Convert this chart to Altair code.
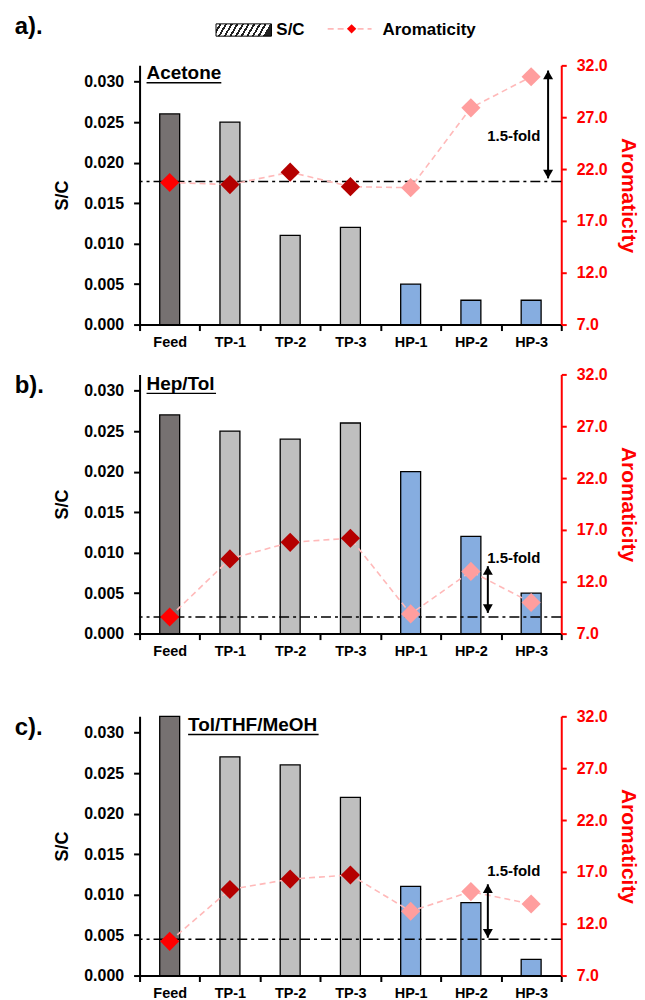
import altair as alt
import pandas as pd

# ---------------- data ----------------
categories = ["Feed", "TP-1", "TP-2", "TP-3", "HP-1", "HP-2", "HP-3"]
groups = ["Feed", "TP", "TP", "TP", "HP", "HP", "HP"]
panel_labels = ["a).", "b).", "c)."]
solvents = ["Acetone", "Hep/Tol", "Tol/THF/MeOH"]

sc_a = [0.026, 0.025, 0.011, 0.012, 0.005, 0.003, 0.003]
sc_b = [0.027, 0.025, 0.024, 0.026, 0.020, 0.012, 0.005]
sc_c = [0.032, 0.027, 0.026, 0.022, 0.011, 0.009, 0.002]

arom_a = [20.7, 20.5, 21.7, 20.3, 20.2, 27.9, 30.9]
arom_b = [8.6, 14.2, 15.8, 16.2, 8.9, 13.0, 10.0]
arom_c = [10.3, 15.3, 16.3, 16.7, 13.2, 15.1, 13.9]

ref_lines = [20.8, 8.6, 10.5]
arrow_cat = ["HP-3", "HP-2", "HP-2"]
arrow_low = [21.1, 9.0, 10.65]
arrow_high = [31.5, 13.5, 15.8]
fold_cat = ["HP-2", "HP-2", "HP-2"]
fold_y = [24.7, 13.8, 16.6]
fold_label = "1.5-fold"

sc_ticks = [0.0, 0.005, 0.010, 0.015, 0.020, 0.025, 0.030]
arom_ticks = [7, 12, 17, 22, 27, 32]

# ---------------- styles ----------------
FONT = "Liberation Sans"
W = 423
group_names = ["Feed", "TP", "HP"]
bar_colors = ["#767171", "#BFBFBF", "#86ADE0"]
pt_colors = ["#FF0000", "#B50000", "#FF9E9E"]
PINK = "#FFB9B9"
RED = "#FF0000"

x_axis = alt.Axis(labelAngle=0, labelFontSize=14.5, labelFontWeight="bold", labelColor="black",
                  labelPadding=5, tickBand="extent", tickSize=6, tickWidth=2, tickColor="black",
                  domainColor="black", domainWidth=2, grid=False, title=None, labelFont=FONT)
left_axis = alt.Axis(values=sc_ticks, format=".3f", title="S/C", titleFontSize=18, titleFontWeight="bold",
                     titleColor="black", titlePadding=12, labelFontSize=16, labelFontWeight="bold",
                     labelColor="black", labelPadding=10, tickSize=6, tickWidth=2, tickColor="black",
                     domainColor="black", domainWidth=2, grid=False, labelFont=FONT, titleFont=FONT)
right_axis = alt.Axis(orient="right", values=arom_ticks, format=".1f", title="Aromaticity",
                      titleFontSize=21, titleFontWeight="bold", titleColor=RED, titlePadding=10,
                      labelFontSize=16, labelFontWeight="bold", labelColor=RED, labelPadding=10,
                      tickSize=5, tickWidth=2, tickColor=RED, domainColor=RED, domainWidth=2,
                      grid=False, labelFont=FONT, titleFont=FONT)

stops = []
n = 10
for i in range(n):
    o = i / n
    stops += [alt.GradientStop(offset=o, color="white"),
              alt.GradientStop(offset=o + 0.062, color="white"),
              alt.GradientStop(offset=o + 0.062, color="#222222"),
              alt.GradientStop(offset=(i + 1) / n, color="#222222")]
hatch = alt.LinearGradient(gradient="linear", stops=stops, x1=0, y1=0, x2=1, y2=0.13)

title_pos = [(7, 14), (7, 15.5), (48.7, 14.7)]
title_width = [75, 69.7, 130.9]


def one(text):
    return pd.DataFrame({"t": [text]})


def panel(i, sc, arom, height, top):
    df = pd.DataFrame({"category": categories, "group": groups, "sc": sc, "arom": arom})
    xenc = alt.X("category:N", sort=categories,
                 scale=alt.Scale(paddingInner=0, paddingOuter=0), axis=x_axis)
    yl_scale = alt.Scale(domain=[0, 0.032], nice=False, zero=True, range=[height, top])
    yr_scale = alt.Scale(domain=[7, 32], nice=False, zero=False, range=[height, top])

    bars = alt.Chart(df).mark_bar(size=20, stroke="black", strokeWidth=1.3).encode(
        x=xenc,
        y=alt.Y("sc:Q", scale=yl_scale, axis=left_axis),
        color=alt.Color("group:N", scale=alt.Scale(domain=group_names, range=bar_colors), legend=None),
    )

    ref = alt.Chart(pd.DataFrame({"ref": [ref_lines[i]]})).mark_rule(
        color="black", strokeWidth=1.5, strokeDash=[10, 4, 3, 4]).encode(
        y=alt.Y("ref:Q", scale=yr_scale, axis=right_axis))
    line = alt.Chart(df).mark_line(color=PINK, strokeWidth=1.6, strokeDash=[6, 4]).encode(
        x=xenc, y=alt.Y("arom:Q", scale=yr_scale, axis=right_axis))
    pts = alt.Chart(df).mark_point(shape="diamond", filled=True, size=370, opacity=1).encode(
        x=xenc, y=alt.Y("arom:Q", scale=yr_scale, axis=right_axis),
        color=alt.Color("group:N", scale=alt.Scale(domain=group_names, range=pt_colors), legend=None))
    adf = pd.DataFrame({"category": [arrow_cat[i]], "lo": [arrow_low[i]], "hi": [arrow_high[i]]})
    arr = alt.Chart(adf).mark_rule(color="black", strokeWidth=2, xOffset=17).encode(
        x=xenc, y=alt.Y("lo:Q", scale=yr_scale, axis=right_axis), y2="hi:Q")
    head_up = alt.Chart(adf).mark_point(shape="triangle-up", filled=True, size=100, color="black",
                                        opacity=1, xOffset=17, yOffset=4.3).encode(
        x=xenc, y=alt.Y("hi:Q", scale=yr_scale, axis=right_axis))
    head_dn = alt.Chart(adf).mark_point(shape="triangle-down", filled=True, size=100, color="black",
                                        opacity=1, xOffset=17, yOffset=-4.3).encode(
        x=xenc, y=alt.Y("lo:Q", scale=yr_scale, axis=right_axis))
    fdf = pd.DataFrame({"category": [fold_cat[i]], "v": [fold_y[i]], "t": [fold_label]})
    fold = alt.Chart(fdf).mark_text(align="left", baseline="alphabetic", xOffset=16.4, fontSize=15,
                                    fontWeight="bold", color="black", font=FONT).encode(
        x=xenc, y=alt.Y("v:Q", scale=yr_scale, axis=right_axis), text="t:N")

    right = alt.layer(ref, line, pts, arr, head_up, head_dn, fold)

    tx, ty = title_pos[i]
    ttl = alt.Chart(one(solvents[i])).mark_text(align="left", baseline="alphabetic", fontSize=19,
                                                 fontWeight="bold", color="black", font=FONT).encode(
        text="t:N", x=alt.value(tx), y=alt.value(top + ty))
    uline = alt.Chart(one("u")).mark_rule(color="black", strokeWidth=1.4).encode(
        x=alt.value(tx), x2=alt.value(tx + title_width[i]), y=alt.value(top + ty + 3.5))
    plabel_y = -31.3 if i == 0 else top + 19
    plabel = alt.Chart(one(panel_labels[i])).mark_text(align="left", baseline="alphabetic", fontSize=24,
                                                        fontWeight="bold", color="black", font=FONT).encode(
        text="t:N", x=alt.value(-125.3), y=alt.value(plabel_y))

    layers = [bars, right, ttl, uline, plabel]
    if i == 0:
        rect = alt.Chart(one("r")).mark_rect(fill=hatch, stroke="black", strokeWidth=1).encode(
            x=alt.value(76.7), x2=alt.value(132.3), y=alt.value(-41.6), y2=alt.value(-29.3))
        t1 = alt.Chart(one("S/C")).mark_text(align="left", baseline="alphabetic", fontSize=17,
                                             fontWeight="bold", color="black", font=FONT).encode(
            text="t:N", x=alt.value(137.2), y=alt.value(-30.6))
        lg_line = alt.Chart(one("l")).mark_rule(color=PINK, strokeWidth=1.6, strokeDash=[6, 4]).encode(
            x=alt.value(188.7), x2=alt.value(232.7), y=alt.value(-36.6))
        lg_pt = alt.Chart(one("p")).mark_point(shape="diamond", filled=True, color=RED, size=87,
                                               opacity=1).encode(x=alt.value(212.7), y=alt.value(-36.6))
        t2 = alt.Chart(one("Aromaticity")).mark_text(align="left", baseline="alphabetic", fontSize=17,
                                                     fontWeight="bold", color="black", font=FONT).encode(
            text="t:N", x=alt.value(243.7), y=alt.value(-30.6))
        layers += [rect, t1, lg_line, lg_pt, t2]

    return alt.layer(*layers).resolve_scale(y="independent", color="independent").properties(
        width=W, height=height)


pa = panel(0, sc_a, arom_a, 260, 0)
pb = panel(1, sc_b, arom_b, 260, 0)
pc = panel(2, sc_c, arom_c, 293, 33)

chart = alt.vconcat(pa, pb, pc, spacing=50, bounds="flush").properties(
    padding={"left": 14, "top": 13, "right": 6, "bottom": 6}
).configure(font=FONT).configure_view(strokeWidth=0, stroke=None)

chart.save("out.html", embed_options={"renderer": "svg", "actions": False})
